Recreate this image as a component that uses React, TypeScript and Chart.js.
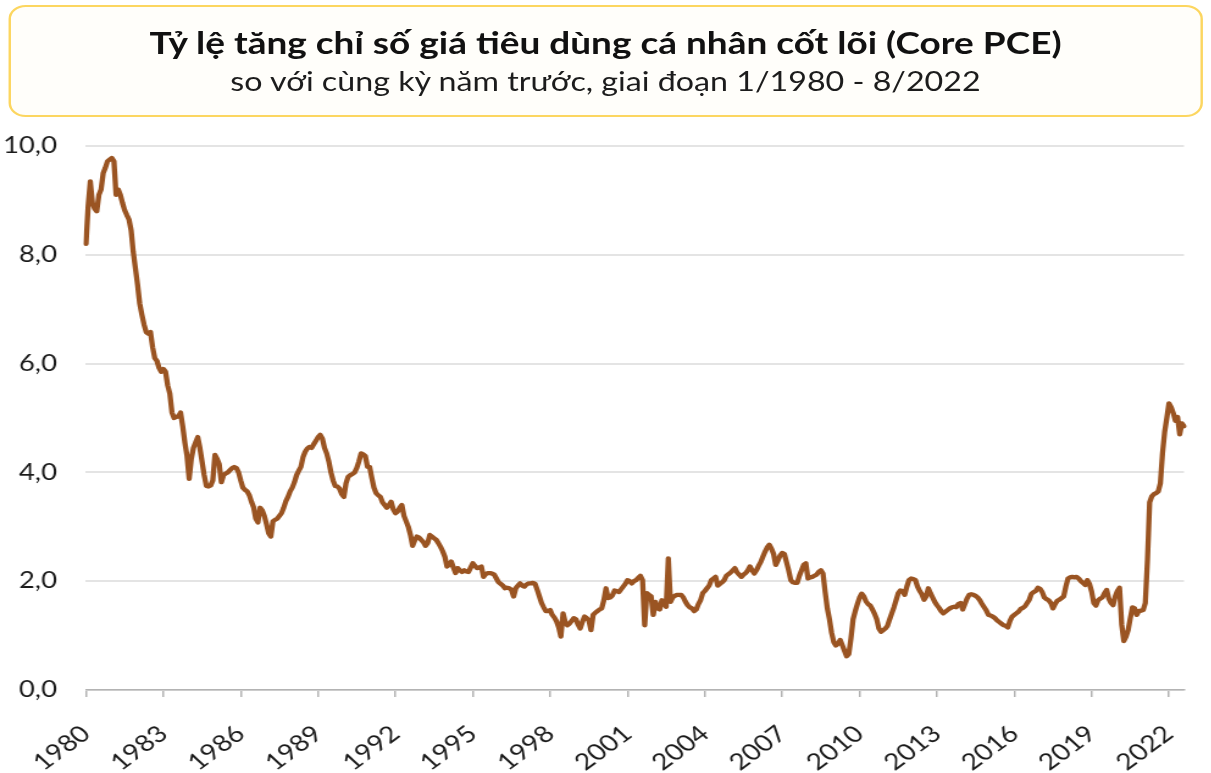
import React, { useEffect, useRef } from "react";
import { Chart, registerables } from "chart.js";

Chart.register(...registerables);

// Core PCE, % y/y, monthly, 1/1980 - 8/2022
const y1980 = [8.2, 8.9, 9.35, 8.95, 8.85, 8.8, 9.1, 9.2, 9.5, 9.6, 9.72, 9.75];
const y1981 = [9.78, 9.72, 9.1, 9.2, 9.1, 8.95, 8.82, 8.73, 8.65, 8.45, 8.05, 7.75];
const y1982 = [7.45, 7.1, 6.9, 6.72, 6.58, 6.55, 6.58, 6.3, 6.1, 6.05, 5.92, 5.85];
const y1983 = [5.9, 5.85, 5.6, 5.45, 5.1, 5.0, 5.02, 5.03, 5.1, 4.85, 4.55, 4.3];
const y1984 = [3.88, 4.25, 4.45, 4.55, 4.65, 4.45, 4.2, 3.95, 3.75, 3.74, 3.76, 3.85];
const y1985 = [4.32, 4.25, 4.15, 3.82, 3.95, 3.98, 4.0, 4.04, 4.08, 4.1, 4.08, 4.0];
const y1986 = [3.85, 3.72, 3.68, 3.65, 3.58, 3.46, 3.36, 3.15, 3.08, 3.35, 3.3, 3.2];
const y1987 = [3.05, 2.88, 2.82, 3.1, 3.13, 3.15, 3.2, 3.25, 3.35, 3.47, 3.55, 3.65];
const y1988 = [3.72, 3.82, 3.95, 4.03, 4.1, 4.28, 4.38, 4.44, 4.47, 4.45, 4.52, 4.58];
const y1989 = [4.65, 4.69, 4.62, 4.45, 4.35, 4.2, 4.0, 3.85, 3.75, 3.74, 3.7, 3.6];
const y1990 = [3.55, 3.8, 3.92, 3.95, 3.97, 4.0, 4.08, 4.2, 4.35, 4.33, 4.3, 4.1];
const y1991 = [4.1, 3.9, 3.72, 3.62, 3.58, 3.55, 3.45, 3.4, 3.35, 3.4, 3.46, 3.32];
const y1992 = [3.25, 3.28, 3.35, 3.4, 3.2, 3.1, 3.0, 2.85, 2.65, 2.75, 2.82, 2.8];
const y1993 = [2.76, 2.72, 2.65, 2.7, 2.85, 2.82, 2.79, 2.76, 2.7, 2.63, 2.55, 2.45];
const y1994 = [2.27, 2.3, 2.36, 2.25, 2.15, 2.24, 2.2, 2.17, 2.2, 2.18, 2.17, 2.25];
const y1995 = [2.33, 2.28, 2.24, 2.25, 2.27, 2.08, 2.13, 2.15, 2.15, 2.14, 2.12, 2.05];
const y1996 = [1.98, 1.95, 1.92, 1.87, 1.88, 1.87, 1.84, 1.72, 1.87, 1.92, 1.96, 1.92];
const y1997 = [1.9, 1.94, 1.96, 1.96, 1.97, 1.95, 1.84, 1.72, 1.6, 1.52, 1.45, 1.45];
const y1998 = [1.47, 1.38, 1.33, 1.26, 1.15, 0.98, 1.41, 1.25, 1.19, 1.22, 1.27, 1.32];
const y1999 = [1.3, 1.2, 1.13, 1.25, 1.35, 1.32, 1.28, 1.1, 1.38, 1.42, 1.45, 1.48];
const y2000 = [1.5, 1.65, 1.87, 1.69, 1.7, 1.74, 1.83, 1.82, 1.8, 1.85, 1.9, 1.95];
const y2001 = [2.02, 2.0, 1.96, 2.0, 2.02, 2.06, 2.1, 2.02, 1.19, 1.78, 1.75, 1.72];
const y2002 = [1.38, 1.62, 1.5, 1.48, 1.65, 1.6, 1.53, 2.42, 1.62, 1.7, 1.73, 1.75];
const y2003 = [1.75, 1.75, 1.7, 1.62, 1.56, 1.52, 1.5, 1.45, 1.48, 1.58, 1.65, 1.78];
const y2004 = [1.82, 1.87, 1.92, 2.02, 2.05, 2.08, 1.92, 1.95, 1.98, 2.02, 2.1, 2.13];
const y2005 = [2.16, 2.2, 2.24, 2.16, 2.12, 2.08, 2.12, 2.15, 2.2, 2.27, 2.2, 2.14];
const y2006 = [2.2, 2.28, 2.35, 2.45, 2.54, 2.62, 2.67, 2.6, 2.5, 2.3, 2.38, 2.47];
const y2007 = [2.52, 2.5, 2.35, 2.2, 2.02, 1.98, 1.97, 1.97, 2.1, 2.2, 2.3, 2.33];
const y2008 = [2.05, 2.07, 2.08, 2.1, 2.12, 2.17, 2.2, 2.14, 1.8, 1.5, 1.3, 1.05];
const y2009 = [0.88, 0.82, 0.85, 0.92, 0.82, 0.72, 0.62, 0.66, 0.95, 1.3, 1.45, 1.58];
const y2010 = [1.7, 1.77, 1.72, 1.63, 1.58, 1.55, 1.48, 1.4, 1.3, 1.13, 1.07, 1.1];
const y2011 = [1.13, 1.18, 1.3, 1.41, 1.52, 1.65, 1.78, 1.83, 1.82, 1.75, 1.9, 2.02];
const y2012 = [2.05, 2.04, 2.02, 1.9, 1.82, 1.76, 1.66, 1.72, 1.87, 1.78, 1.7, 1.62];
const y2013 = [1.56, 1.51, 1.45, 1.41, 1.44, 1.47, 1.5, 1.52, 1.53, 1.52, 1.58, 1.6];
const y2014 = [1.48, 1.58, 1.68, 1.75, 1.76, 1.75, 1.73, 1.7, 1.65, 1.58, 1.52, 1.46];
const y2015 = [1.38, 1.37, 1.35, 1.32, 1.28, 1.25, 1.22, 1.19, 1.18, 1.15, 1.27, 1.35];
const y2016 = [1.38, 1.41, 1.44, 1.49, 1.51, 1.54, 1.6, 1.66, 1.77, 1.8, 1.82, 1.88];
const y2017 = [1.86, 1.8, 1.7, 1.67, 1.65, 1.6, 1.5, 1.58, 1.64, 1.66, 1.69, 1.72];
const y2018 = [1.9, 2.05, 2.07, 2.08, 2.07, 2.08, 2.05, 2.0, 1.97, 1.93, 2.02, 1.95];
const y2019 = [1.81, 1.6, 1.55, 1.65, 1.68, 1.7, 1.78, 1.84, 1.68, 1.6, 1.56, 1.72];
const y2020 = [1.82, 1.88, 1.2, 0.9, 0.98, 1.1, 1.32, 1.52, 1.5, 1.38, 1.45, 1.46];
const y2021 = [1.47, 1.6, 2.4, 3.45, 3.56, 3.6, 3.62, 3.65, 3.8, 4.35, 4.75, 5.0];
const y2022 = [5.27, 5.2, 5.09, 4.95, 5.02, 4.7, 4.9, 4.85];

const yearlySeries = [
  y1980, y1981, y1982, y1983, y1984, y1985, y1986, y1987, y1988, y1989,
  y1990, y1991, y1992, y1993, y1994, y1995, y1996, y1997, y1998, y1999,
  y2000, y2001, y2002, y2003, y2004, y2005, y2006, y2007, y2008, y2009,
  y2010, y2011, y2012, y2013, y2014, y2015, y2016, y2017, y2018, y2019,
  y2020, y2021, y2022,
];
const FIRST_YEAR = 1980;
const corePCE: number[] = ([] as number[]).concat(...yearlySeries);
const monthLabels: string[] = corePCE.map(
  (_, i) => `${(i % 12) + 1}/${FIRST_YEAR + Math.floor(i / 12)}`
);
const xTickYears = [1980, 1983, 1986, 1989, 1992, 1995, 1998, 2001, 2004, 2007, 2010, 2013, 2016, 2019, 2022];

const TITLE = "Tỷ lệ tăng chỉ số giá tiêu dùng cá nhân cốt lõi (Core PCE)";
const SUBTITLE = "so với cùng kỳ năm trước, giai đoạn 1/1980 - 8/2022";

// the reference is horizontally stretched; draw narrower and stretch with CSS
const SX = 1.22;
const PAGE_W = 1211;
const PAGE_H = 773;
const W = Math.round(PAGE_W / SX);
const CANVAS_TOP = 125;
const CANVAS_H = PAGE_H - CANVAS_TOP;
const PLOT_LEFT = 86 / SX;
const PLOT_RIGHT = 1184 / SX;
const PLOT_TOP = 146;
const PLOT_BOTTOM = 690;
const Y_LABEL_RIGHT = 57 / SX;

export default function App() {
  const ref = useRef<HTMLCanvasElement | null>(null);

  useEffect(() => {
    if (!ref.current) return;
    const chart = new Chart(ref.current, {
      type: "line",
      data: {
        labels: monthLabels,
        datasets: [
          {
            data: corePCE,
            borderColor: "#9a5422",
            borderWidth: 4.3,
            pointRadius: 0,
            tension: 0,
            borderJoinStyle: "round",
            borderCapStyle: "round",
          },
        ],
      },
      options: {
        responsive: false,
        animation: false,
        devicePixelRatio: 1,
        layout: {
          padding: { top: PLOT_TOP - CANVAS_TOP, right: W - PLOT_RIGHT, left: 0, bottom: 0 },
        },
        plugins: {
          legend: { display: false },
          tooltip: { enabled: false },
          title: { display: false },
        },
        scales: {
          x: {
            type: "category",
            offset: false,
            afterFit: (scale: any) => {
              scale.height = CANVAS_H - (PLOT_BOTTOM - CANVAS_TOP);
              scale.paddingLeft = 0;
              scale.paddingRight = 0;
            },
            afterBuildTicks: (scale: any) => {
              scale.ticks = xTickYears.map((y) => ({ value: (y - FIRST_YEAR) * 12 }));
            },
            grid: {
              drawOnChartArea: false,
              drawTicks: true,
              tickLength: 7,
              color: "#b3b3b3",
              lineWidth: 1.5,
            },
            border: { display: true, color: "#b3b3b3", width: 1.5 },
            ticks: {
              autoSkip: false,
              minRotation: 42,
              maxRotation: 42,
              padding: 23,
              color: "#1a1a1a",
              font: { family: "Lato", size: 23 },
              callback: (value: any) => String(FIRST_YEAR + Math.round(Number(value) / 12)),
            },
          },
          y: {
            min: 0,
            max: 10,
            afterFit: (scale: any) => {
              scale.width = PLOT_LEFT;
            },
            grid: {
              color: "#e4e4e4",
              lineWidth: 2,
              drawTicks: true,
              tickLength: PLOT_LEFT - Y_LABEL_RIGHT,
              tickColor: "rgba(0,0,0,0)",
            },
            border: { display: false },
            ticks: {
              stepSize: 2,
              padding: 0,
              color: "#1a1a1a",
              font: { family: "Lato", size: 22.5 },
              callback: (v: any) => Number(v).toFixed(1).replace(".", ","),
            },
          },
        },
      },
    });
    return () => chart.destroy();
  }, []);

  return (
    <div style={{ position: "absolute", left: 0, top: 0, width: PAGE_W, height: PAGE_H, background: "#fff", overflow: "hidden" }}>
      <div
        style={{
          position: "absolute",
          left: 0,
          top: 0,
          width: W,
          height: PAGE_H,
          transform: `scaleX(${SX})`,
          transformOrigin: "0 0",
        }}
      >
        <div
          style={{
            position: "absolute",
            left: 8 / SX,
            top: 5,
            width: 1195 / SX,
            height: 112,
            boxSizing: "border-box",
            border: "2px solid #fcd660",
            borderRadius: 14,
            background: "#fffefa",
            fontFamily: "Lato, sans-serif",
            textAlign: "center",
            color: "#111",
          }}
        >
          <div style={{ position: "absolute", left: -20, right: -20, top: 17, fontWeight: 700, fontSize: 30.3, lineHeight: "36px", whiteSpace: "nowrap" }}>
            {TITLE}
          </div>
          <div style={{ position: "absolute", left: -20, right: -20, top: 57, fontWeight: 400, fontSize: 26.4, lineHeight: "34px", color: "#1c1c1c", whiteSpace: "nowrap" }}>
            {SUBTITLE}
          </div>
        </div>
        <canvas
          ref={ref}
          width={W}
          height={CANVAS_H}
          style={{ position: "absolute", left: 0, top: CANVAS_TOP, width: W, height: CANVAS_H }}
        />
      </div>
    </div>
  );
}
